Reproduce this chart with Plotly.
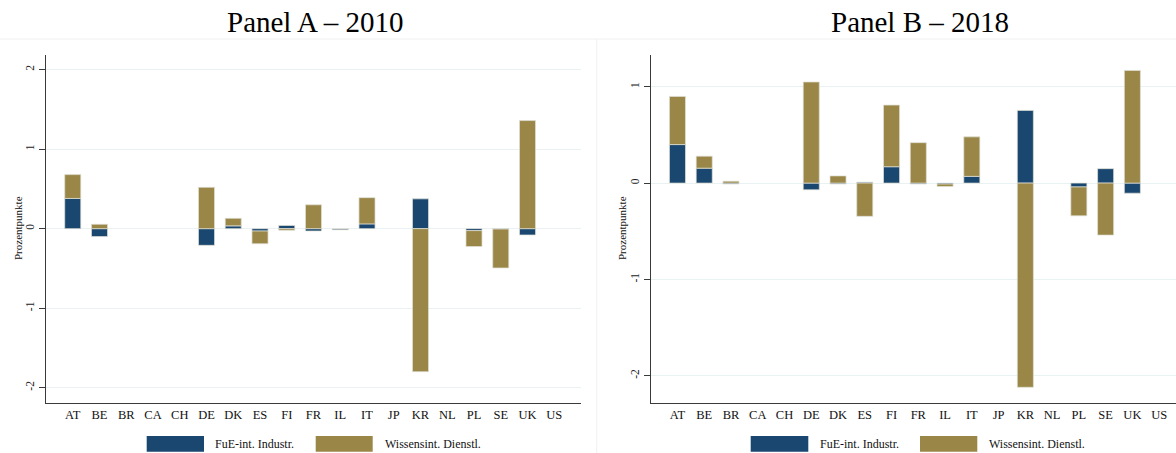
import plotly.graph_objects as go

# Country codes shown on both panels
countries = ["AT", "BE", "BR", "CA", "CH", "DE", "DK", "ES", "FI", "FR",
             "IL", "IT", "JP", "KR", "NL", "PL", "SE", "UK", "US"]

# Contributions in percentage points (None = no data)
fue_2010 = [0.38, -0.10, None, None, None, -0.21, 0.035, -0.03, 0.04, -0.03,
            -0.015, 0.06, None, 0.375, None, -0.025, -0.005, -0.08, None]
wiss_2010 = [0.30, 0.055, None, None, None, 0.52, 0.095, -0.16, -0.02, 0.30,
             0.0, 0.33, None, -1.80, None, -0.20, -0.49, 1.36, None]

fue_2018 = [0.40, 0.155, -0.01, None, None, -0.07, -0.01, 0.01, 0.17, -0.01,
            -0.01, 0.07, None, 0.755, None, -0.04, 0.15, -0.105, None]
wiss_2018 = [0.50, 0.125, 0.02, None, None, 1.05, 0.075, -0.345, 0.64, 0.42,
             -0.025, 0.41, None, -2.12, None, -0.30, -0.54, 1.17, None]

# Y tick positions and their labels (plain hyphen as minus sign)
yticks_2010 = [-2, -1, 0, 1, 2]
yticks_2018 = [-2, -1, 0, 1]

series_names = ["FuE-int. Industr.", "Wissensint. Dienstl."]
panel_titles = ["Panel A \u2013 2010", "Panel B \u2013 2018"]
y_title = "Prozentpunkte"

W, H = 1176, 453
BLUE = "#1a476f"
GOLD = "#9a8748"
SERIF = "Liberation Serif, Times New Roman, serif"
GRID = "#e9f1f3"
AXIS = "#3a3a3a"


def px_x(v):
    return v / W


def px_y(v):
    return (H - v) / H


def tick_labels(vals):
    return [str(v) for v in vals]


fig = go.Figure()

panels = [
    ("x", "y", fue_2010, wiss_2010),
    ("x2", "y2", fue_2018, wiss_2018),
]
for xa, ya, fue, wiss in panels:
    for name, vals, col in zip(series_names, [fue, wiss], [BLUE, GOLD]):
        fig.add_trace(go.Bar(
            x=countries, y=vals, name=name, xaxis=xa, yaxis=ya,
            width=0.6, showlegend=False,
            marker=dict(color=col, line=dict(color="rgba(225,225,215,0.9)", width=0.8)),
        ))

common_x = dict(
    type="category", categoryorder="array", categoryarray=countries,
    showgrid=False, zeroline=False, showline=True, linecolor=AXIS, linewidth=1.3,
    ticks="", tickfont=dict(family=SERIF, size=12.5, color="#111"),
)
common_y = dict(
    showgrid=True, gridcolor=GRID, gridwidth=1, zeroline=False,
    showline=True, linecolor=AXIS, linewidth=1.3,
    ticks="outside", ticklen=6, tickcolor=AXIS, tickwidth=1,
    tickangle=-90, tickfont=dict(family=SERIF, size=11.5, color="#222"),
)

y_bottom, y_top = 402.7, 55.0
fig.update_layout(
    width=W, height=H,
    margin=dict(l=0, r=0, t=0, b=0),
    paper_bgcolor="white", plot_bgcolor="white",
    barmode="relative", bargap=0.4,
    xaxis=dict(common_x, domain=[px_x(46), px_x(581)], range=[-1, 19], anchor="y"),
    yaxis=dict(common_y, domain=[px_y(y_bottom), px_y(y_top)], range=[-2.19, 2.185],
               tickmode="array", tickvals=yticks_2010, ticktext=tick_labels(yticks_2010),
               anchor="x"),
    xaxis2=dict(common_x, domain=[px_x(650.7), 1.0], range=[-1, 18.63], anchor="y2"),
    yaxis2=dict(common_y, domain=[px_y(y_bottom), px_y(y_top)], range=[-2.28, 1.33],
                tickmode="array", tickvals=yticks_2018, ticktext=tick_labels(yticks_2018),
                anchor="x2"),
)

# Faint frame lines separating the two panels
fig.add_shape(type="line", xref="paper", yref="paper", x0=0, x1=1,
              y0=px_y(39), y1=px_y(39), line=dict(color="#f0f0f0", width=1))
fig.add_shape(type="line", xref="paper", yref="paper", x0=px_x(596.7), x1=px_x(596.7),
              y0=0, y1=px_y(39), line=dict(color="#f0f0f0", width=1))

annotations = []
# Panel titles
for title, cx in zip(panel_titles, [315, 920]):
    annotations.append(dict(text=title, xref="paper", yref="paper", x=px_x(cx), y=px_y(22),
                            xanchor="center", yanchor="middle", showarrow=False,
                            font=dict(family=SERIF, size=29, color="#000")))
# Rotated y-axis titles
for cx in [18, 622]:
    annotations.append(dict(text=y_title, xref="paper", yref="paper", x=px_x(cx), y=px_y(228),
                            xanchor="center", yanchor="middle", showarrow=False, textangle=-90,
                            font=dict(family=SERIF, size=11, color="#111")))

# Legend swatches and labels beneath each panel
legend_rows = [
    [(146.7, 204.0, 213.0), (315.7, 372.7, 382.7)],
    [(750.7, 808.3, 817.7), (920.0, 977.3, 987.0)],
]
for row in legend_rows:
    for (x0, x1, tx), name, col in zip(row, series_names, [BLUE, GOLD]):
        fig.add_shape(type="rect", xref="paper", yref="paper",
                      x0=px_x(x0), x1=px_x(x1), y0=px_y(451.7), y1=px_y(436),
                      fillcolor=col, line=dict(width=0))
        annotations.append(dict(text=name, xref="paper", yref="paper", x=px_x(tx), y=px_y(444),
                                xanchor="left", yanchor="middle", showarrow=False,
                                font=dict(family=SERIF, size=12, color="#111")))

fig.update_layout(annotations=annotations)

fig.write_html("out.html")
